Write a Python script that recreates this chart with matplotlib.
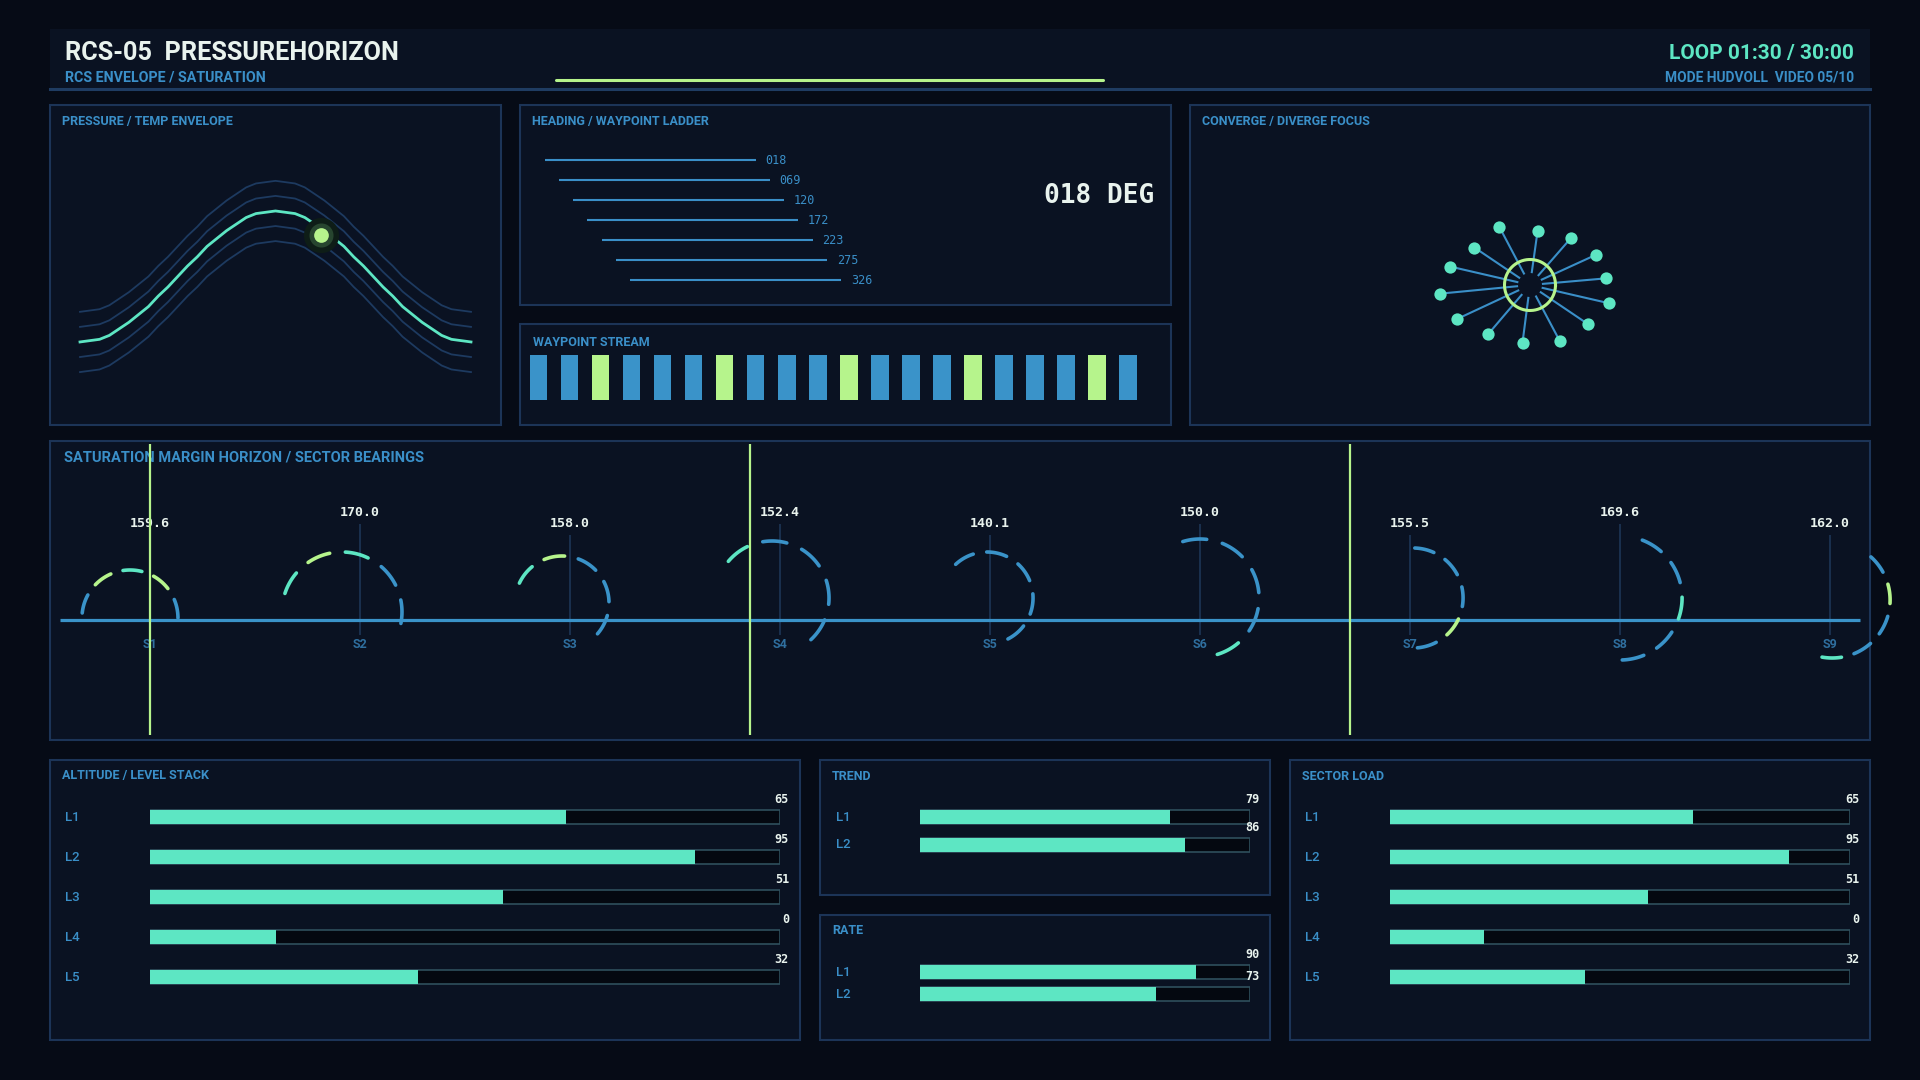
import numpy as np
import matplotlib
matplotlib.use("Agg")
import matplotlib.pyplot as plt
from matplotlib.patches import Rectangle

plt.rcParams['font.family'] = ['Roboto', 'DejaVu Sans']
MONO = 'DejaVu Sans Mono'

W, H = 1920, 1080

# colours
BG = '#060b16'
PANEL = '#0a1222'
EDGE = '#1c3457'
BLUE = '#3a8fc8'
DIMBLUE = '#2f6f9f'
BAR_BLUE = '#3a93c9'
TEAL = '#5de6c3'
GREEN = '#b6f48c'
WHITE = '#e9f3ee'
TRACK = '#040810'
TRACK_EDGE = '#2f4f5c'
STEM = '#1d3556'

# ---- data ----
# pressure / temp envelope (normalised level, 41 samples across the panel)
envelope_curve = [0.00, 0.01, 0.02, 0.05, 0.10, 0.15, 0.21, 0.27, 0.35, 0.42,
                  0.50, 0.58, 0.65, 0.73, 0.79, 0.85, 0.90, 0.95, 0.98, 0.99,
                  1.00, 0.99, 0.98, 0.95, 0.90, 0.85, 0.79, 0.73, 0.65, 0.58,
                  0.50, 0.42, 0.35, 0.27, 0.21, 0.15, 0.10, 0.05, 0.02, 0.01, 0.00]
envelope_offsets = [-0.23, -0.115, 0.115, 0.23]
marker_t = 24.7
marker_level = 0.82

# heading ladder
headings = [18, 69, 120, 172, 223, 275, 326]
current_heading = 18

# waypoint stream
stream_levels = [1, 1, 1, 1, 1, 1, 1, 1, 1, 1, 1, 1, 1, 1, 1, 1, 1, 1, 1, 1]
stream_flags = [0, 0, 1, 0, 0, 0, 1, 0, 0, 0, 1, 0, 0, 0, 1, 0, 0, 0, 1, 0]

# converge / diverge focus
focus_angles = [5, 24.6, 48.9, 82, 117.8, 146, 167, 185.5, 205, 229.6, 262.6, 298, 326, 347]
focus_radii = [76, 73, 63, 55, 66, 67, 82, 90, 81, 65, 58, 63, 70, 81]
focus_ring = 25.5

# saturation margin horizon
sector_names = ['S1', 'S2', 'S3', 'S4', 'S5', 'S6', 'S7', 'S8', 'S9']
sector_values = [159.6, 170.0, 158.0, 152.4, 140.1, 150.0, 155.5, 169.6, 162.0]
arc_radius = [48, 60, 47, 57, 46, 59, 50, 62, 58]
arc_start = [174, 162, 155, 140, 133, 107, 88, 69, 48]
arc_end = [0, -11, -41, -47, -63, -73, -85, -88, -100]
arc_center_dx = [-20, -18, -8, -8, -3, 0, 3, 0, 2]
arc_center_dy = [2, 8, 17, 22, 22, 22, 22, 22, 20]
arc_colors = ['BGTGB', 'TGTBB', 'TGBBB', 'TBBBB', 'BBBBB', 'BBBBT', 'BBBGB', 'BBTBB', 'BGBBT']
scan_marks = [0.0, 2.857, 5.714]

# bar stacks
level_names = ['L1', 'L2', 'L3', 'L4', 'L5']
altitude_fill = [66, 86.5, 56, 20, 42.5]
altitude_values = [65, 95, 51, 0, 32]
trend_names = ['L1', 'L2']
trend_fill = [75.8, 80.3]
trend_values = [79, 86]
rate_names = ['L1', 'L2']
rate_fill = [83.6, 71.5]
rate_values = [90, 73]
load_fill = [65.9, 86.6, 56.1, 20.4, 42.5]
load_values = [65, 95, 51, 0, 32]

# ---- figure ----
fig = plt.figure(figsize=(19.2, 10.8), dpi=100, facecolor=BG)
bg = fig.add_axes([0, 0, 1, 1])
bg.set_xlim(0, W)
bg.set_ylim(H, 0)
bg.axis('off')


def px_axes(x0, y0, x1, y1, **kw):
    ax = fig.add_axes([x0 / W, 1 - y1 / H, (x1 - x0) / W, (y1 - y0) / H], **kw)
    ax.patch.set_visible(False)
    ax.axis('off')
    return ax


def panel(x0, y0, x1, y1, title, tx=12, ty=16, size=9):
    bg.add_patch(Rectangle((x0, y0), x1 - x0, y1 - y0, fc=PANEL, ec=EDGE, lw=1.5))
    bg.text(x0 + tx, y0 + ty, title, color=BLUE, fontsize=size, fontweight='bold', va='center')


# header
bg.add_patch(Rectangle((50, 29), 1820, 60, fc=PANEL, ec='none'))
bg.plot([50, 1870], [89, 89], color='#1f3c62', lw=2.2)
bg.text(65, 53, 'RCS-05  PRESSUREHORIZON', color=WHITE, fontsize=18.2, fontweight='bold', va='center')
bg.text(65, 78, 'RCS ENVELOPE / SATURATION', color=BLUE, fontsize=10.3, fontweight='bold', va='center')
bg.plot([556, 1103], [80, 80], color=GREEN, lw=2.2, solid_capstyle='round')
bg.text(1854, 54, 'LOOP 01:30 / 30:00', color=TEAL, fontsize=15, fontweight='bold',
        ha='right', va='center')
bg.text(1854, 78, 'MODE HUDVOLL  VIDEO 05/10', color=BLUE, fontsize=9.9, fontweight='bold',
        ha='right', va='center')

panel(50, 105, 501, 425, 'PRESSURE / TEMP ENVELOPE')
panel(520, 105, 1171, 305, 'HEADING / WAYPOINT LADDER')
panel(520, 324, 1171, 425, 'WAYPOINT STREAM', 13, 19)
panel(1190, 105, 1870, 425, 'CONVERGE / DIVERGE FOCUS')
panel(50, 441, 1870, 740, 'SATURATION MARGIN HORIZON / SECTOR BEARINGS', 14, 17, 10.5)
panel(50, 760, 800, 1040, 'ALTITUDE / LEVEL STACK')
panel(820, 760, 1270, 895, 'TREND')
panel(820, 915, 1270, 1040, 'RATE')
panel(1290, 760, 1870, 1040, 'SECTOR LOAD')

# pressure envelope
ax = px_axes(50, 105, 501, 425)
t = np.arange(len(envelope_curve))
curve = np.array(envelope_curve)
ax.set_xlim(-3.07, 43.07)
ax.set_ylim(-0.634, 1.809)
for off in envelope_offsets:
    ax.plot(t, curve + off, color='#1d3a60', lw=1.3)
ax.plot(t, curve, color=TEAL, lw=2.0)
ax.scatter([marker_t], [marker_level], s=640, color='#0e1d17', zorder=3, lw=0)
ax.scatter([marker_t], [marker_level], s=300, color='#27452f', zorder=4, lw=0)
ax.scatter([marker_t], [marker_level], s=112, color=GREEN, zorder=5, lw=0)

# heading ladder
ax = px_axes(520, 105, 1171, 305)
ax.set_xlim(-24.5, 626.5)
ax.set_ylim(7.25, -2.75)
stagger, length = 14.3, 211
for i, h in enumerate(headings):
    ax.hlines(i, i * stagger, i * stagger + length, color=BLUE, lw=1.5)
    ax.text(i * stagger + length + 9.7, i, f'{h:03d}', color=BLUE, fontsize=8.5,
            family=MONO, va='center')
bg.text(1154, 196, f'{current_heading:03d} DEG', color=WHITE, fontsize=18.8, family=MONO,
        fontweight='bold', ha='right', va='center')

# waypoint stream
ax = px_axes(523.2, 355, 1143.5, 400)
ax.set_xlim(-0.5, 19.5)
ax.set_ylim(0, 1)
ax.bar(range(len(stream_levels)), stream_levels, width=0.56,
       color=[GREEN if f else BAR_BLUE for f in stream_flags])

# converge / diverge focus
ax = px_axes(1420, 175, 1640, 395, projection='polar')
ax.set_ylim(0, 110)
th = np.radians(focus_angles)
for a, r in zip(th, focus_radii):
    ax.plot([a, a], [13, r], color=BLUE, lw=1.5)
ax.scatter(th, focus_radii, s=78, color=TEAL, zorder=4, lw=0)
ring = np.linspace(0, 2 * np.pi, 200)
ax.plot(ring, np.full_like(ring, focus_ring), color=GREEN, lw=2.2, zorder=3)

# saturation margin horizon
PX = 210.0
ax = px_axes(50, 441, 1870, 740)
ax.set_xlim(-0.476, 8.190)
ax.set_ylim(-120, 179)
ax.hlines(0, -0.429, 8.143, color=BAR_BLUE, lw=2.3, zorder=2)
cmap = {'B': BAR_BLUE, 'T': TEAL, 'G': GREEN}
for i, (name, val) in enumerate(zip(sector_names, sector_values)):
    ly = 97 if i % 2 == 0 else 108
    ax.vlines(i, -15, ly - 12, color=STEM, lw=1.2, zorder=1)
    ax.text(i, ly, f'{val:.1f}', color=WHITE, fontsize=9.5, family=MONO, fontweight='bold',
            ha='center', va='center', zorder=4)
    ax.text(i, -25, name, color=DIMBLUE, fontsize=9, fontweight='bold', ha='center',
            va='center', zorder=4)
    slot = (arc_start[i] - arc_end[i]) / 4.6
    r = arc_radius[i]
    for k, c in enumerate(arc_colors[i]):
        a0 = arc_start[i] - k * slot
        seg = np.radians(np.linspace(a0, a0 - 0.6 * slot, 14))
        ax.plot(i + (arc_center_dx[i] + r * np.cos(seg)) / PX,
                arc_center_dy[i] + r * np.sin(seg),
                color=cmap[c], lw=2.6, solid_capstyle='round', clip_on=False, zorder=3)
ax.vlines(scan_marks, -115, 176, color=GREEN, lw=1.6, zorder=5)


# bar stacks
def bar_stack(x0, x1, y_first, pitch, names, fills, values, label_x, value_x):
    n = len(names)
    ax = px_axes(x0, y_first - pitch / 2, x1, y_first + pitch * (n - 0.5))
    ax.set_xlim(0, 100)
    ax.set_ylim(n - 0.5, -0.5)
    h = 14.3 / pitch
    rows = np.arange(n)
    ax.barh(rows, [100] * n, height=h, color=TRACK, edgecolor=TRACK_EDGE, lw=1.2)
    ax.barh(rows, fills, height=h, color=TEAL, lw=0)
    span = x1 - x0
    for k in range(n):
        ax.text((label_x - x0) / span * 100, k, names[k], color=BLUE, fontsize=9.5,
                fontweight='medium', va='center')
        ax.text((value_x - x0) / span * 100, k - 17.5 / pitch, str(values[k]), color=WHITE,
                fontsize=8.5, family=MONO, fontweight='bold', ha='right', va='center', zorder=5)


bar_stack(150, 780, 817.3, 40, level_names, altitude_fill, altitude_values, 65.5, 789)
bar_stack(920, 1250, 817.3, 27.7, trend_names, trend_fill, trend_values, 835.7, 1259.3)
bar_stack(920, 1250, 972.3, 22, rate_names, rate_fill, rate_values, 835.7, 1259.3)
bar_stack(1389.8, 1850.2, 817.3, 40, level_names, load_fill, load_values, 1305.3, 1859.8)

fig.savefig('out.png', dpi=100, facecolor=BG)
